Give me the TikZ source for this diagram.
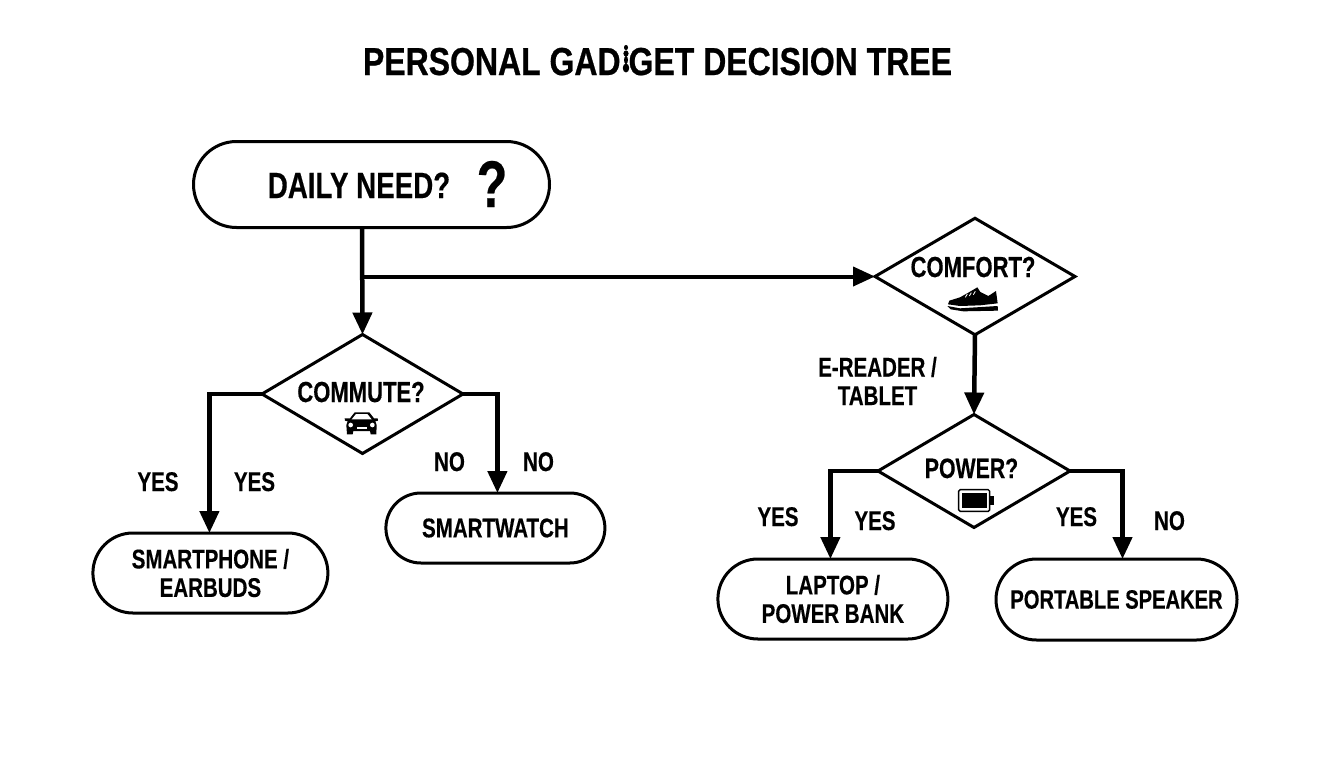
\documentclass[tikz,border=0pt]{standalone}
\usepackage{fontspec}
\usetikzlibrary{arrows.meta,shapes.geometric,shapes.misc}
\newfontfamily\lf{Liberation Sans}[FakeStretch=0.76,FakeBold=0.35]
\newfontfamily\tf{Liberation Sans}[FakeStretch=0.82,FakeBold=0.6]
\newcommand{\fs}[1]{\lf\bfseries\fontsize{#1}{#1}\selectfont}
\newcommand{\ts}[1]{\tf\bfseries\fontsize{#1}{#1}\selectfont}
\tikzset{
  x=1pt,y=-1pt,
  pill/.style={draw=black,line width=3pt,fill=white,rounded rectangle,rounded rectangle arc length=180,outer sep=0pt,inner sep=0pt,align=center,font={\lf\bfseries\fontsize{27}{28.5}\selectfont}},
  dec/.style={draw=black,line width=3pt,fill=white,diamond,aspect=1.7,outer sep=0pt,inner sep=0pt},
  lab/.style={anchor=base,inner sep=0pt,align=center,font={\lf\bfseries\fontsize{27}{28.5}\selectfont}},
  arr/.style={draw=black,line width=4.5pt,-{Triangle[length=22pt,width=19pt]}},
  icon/.style={fill=black,draw=none}
}
\begin{document}
\begin{tikzpicture}
\useasboundingbox (0,0) rectangle (1344,768);
\fill[white] (0,0) rectangle (1344,768);
% title
\node[lab,font=\ts{39}] (title) at (657.5,75) {PERSONAL GAD\kern8pt GET DECISION TREE};
\fill[black] (626,47.5) ellipse (2 and 2.6) (626,53.5) ellipse (2.6 and 3) (626,60) ellipse (2 and 4) (626,68) ellipse (3.2 and 4.5);
% nodes
\node[pill,minimum width=356pt,minimum height=86pt] (start) at (371.5,184.5) {};
\node[lab,font=\fs{36.5}] (daily) at (359,198) {DAILY NEED?};
\node[lab,font=\fs{66}] (qm) at (492,207) {?};
\node[dec,minimum width=201pt,minimum height=119pt] (commute) at (362.5,394) {};
\node[lab,font=\fs{29}] (commutet) at (361,402) {COMMUTE?};
\node[dec,minimum width=200pt,minimum height=116.5pt] (comfort) at (975,276.5) {};
\node[lab,font=\fs{29}] (comfortt) at (973,277) {COMFORT?};
\node[dec,minimum width=192pt,minimum height=113pt] (power) at (974,471) {};
\node[lab,font=\fs{28}] (powert) at (971.5,478) {POWER?};
\node[pill,minimum width=235pt,minimum height=80pt] (phone) at (210.4,573) {SMARTPHONE /\\EARBUDS};
\node[pill,minimum width=219pt,minimum height=70pt] (watch) at (495.4,528) {SMARTWATCH};
\node[pill,minimum width=230pt,minimum height=80pt] (laptop) at (832.9,599) {LAPTOP /\\POWER BANK};
\node[pill,minimum width=241pt,minimum height=81pt,font=\fs{26.5}] (speaker) at (1116.5,599.5) {PORTABLE SPEAKER};
% connectors
\coordinate (branch) at (362,276.5);
\draw[arr] ([xshift=-9.5pt]start.south) -- (commute.north);
\draw[arr,line width=4pt] (branch) -- (comfort.west);
\draw[arr] (comfort.south) -- (power.north);
\draw[arr,line join=miter] (commute.west) -| ([xshift=-1pt]phone.north);
\draw[arr,line join=miter] (commute.east) -| ([xshift=2pt]watch.north);
\draw[arr,line join=miter] (power.west) -| ([xshift=-2.5pt]laptop.north);
\draw[arr,line join=miter] (power.east) -| ([xshift=6pt]speaker.north);
% labels
\node[lab] (y1) at (158,491) {YES};
\node[lab] (y2) at (254.5,491) {YES};
\node[lab] (n1) at (449.5,471) {NO};
\node[lab] (n2) at (538.5,471) {NO};
\node[lab] (ereader) at (877.5,405) {E-READER /\\TABLET};
\node[lab] (y3) at (778,526) {YES};
\node[lab] (y4) at (875,530) {YES};
\node[lab] (y5) at (1076.5,526) {YES};
\node[lab] (n3) at (1169.5,530) {NO};
% car
\begin{scope}[shift={(250,330)},scale=1/3]
\fill[black] (300,265) -- (314,247) -- (358,247) -- (372,265) -- (383,265) -- (384,272) -- (376,274) -- (380,285) -- (379,313) -- (362,313) -- (360,303) -- (310,303) -- (308,313) -- (291,313) -- (289,285) -- (293,274) -- (285,272) -- (284,265) -- cycle;
\fill[white] (305,268) -- (318,252) -- (352,252) -- (365,268) -- cycle;
\fill[white] (302,285) circle (7) (367,285) circle (7);
\fill[white] (320,290) rectangle (350,296);
\end{scope}
% shoe
\begin{scope}[shift={(860,210)},scale=1/3]
\fill[black] (264,283) -- (268,272) -- (300,262) -- (325,248) -- (352,232) -- (361,246) -- (385,258) -- (408,243) -- (413,280) -- (360,286) -- (300,288) -- cycle;
\fill[black] (262,288) -- (300,295) -- (413,288) -- (414,302) -- (310,304) -- (272,298) -- cycle;
\draw[white,line width=.8pt] (316,262) -- (322,252) (328,258) -- (334,248) (340,254) -- (346,244);
\end{scope}
% battery
\begin{scope}[shift={(870,410)},scale=1/3]
\draw[black,line width=1.4pt,rounded corners=1.5pt] (266,239) rectangle (359,304);
\fill[black] (276,249) rectangle (350,295);
\fill[black] (361,258) rectangle (372,285);
\end{scope}
\end{tikzpicture}
\end{document}
